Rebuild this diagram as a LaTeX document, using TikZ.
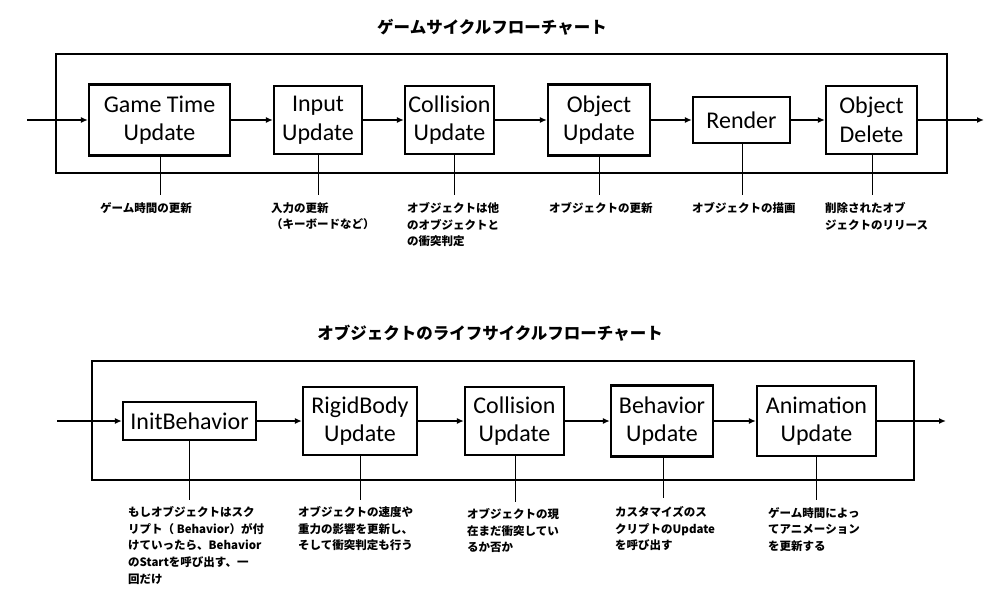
\documentclass[tikz,border=0pt]{standalone}
\usepackage{fontspec}
\setmainfont{Carlito}
\newfontfamily\jp{Noto Sans CJK JP}
\usetikzlibrary{arrows.meta}
\tikzset{
  stepbox/.style={draw, line width=2.2pt, inner sep=0pt, align=center,
    font=\fontsize{24}{28.5}\selectfont},
  flow/.style={line width=1.4pt, -{Latex[length=7pt,width=6pt]}},
  frame/.style={line width=2.4pt},
  leader/.style={line width=0.9pt},
  note/.style={anchor=north west, inner sep=0pt, align=left,
    font=\jp\bfseries\fontsize{11.5}{16.8}\selectfont},
  title/.style={font=\jp\bfseries\fontsize{16.5}{18}\selectfont, inner sep=0pt}
}
\begin{document}
\begin{tikzpicture}[x=1pt,y=-1pt]
\useasboundingbox (0,0) rectangle (1000,600);
% ---------- top ----------
\node[title] (t1) at (492,27) {ゲームサイクルフローチャート};
\draw[frame] (56,54) rectangle (947,173);
\node[stepbox, minimum width=141pt, minimum height=71pt] (gt) at (159.5,120) {Game Time\\Update};
\node[stepbox, minimum width=88pt, minimum height=68pt] (in) at (318,120) {Input\\Update};
\node[stepbox, minimum width=89pt, minimum height=68pt] (co) at (449.5,120) {Collision\\Update};
\node[stepbox, minimum width=102pt, minimum height=71pt] (ob) at (599,120) {Object\\Update};
\node[stepbox, minimum width=97pt, minimum height=46pt] (re) at (741.5,120) {Render};
\node[stepbox, minimum width=91pt, minimum height=68pt] (de) at (871.5,120) {Object\\Delete};
\coordinate (tin) at (27,120);
\coordinate (tout) at (984,120);
\draw[flow] (tin) -- (gt.west);
\draw[flow] (gt) -- (in);
\draw[flow] (in) -- (co);
\draw[flow] (co) -- (ob);
\draw[flow] (ob) -- (re);
\draw[flow] (re) -- (de);
\draw[flow] (de.east) -- (tout);
\coordinate (lgt) at (160,195);
\coordinate (lin) at (318,195);
\coordinate (lco) at (454,195);
\coordinate (lob) at (599,195);
\coordinate (lre) at (742,195);
\coordinate (lde) at (872,195);
\draw[leader] (gt.south -| lgt) -- (lgt);
\draw[leader] (in.south -| lin) -- (lin);
\draw[leader] (co.south -| lco) -- (lco);
\draw[leader] (ob.south -| lob) -- (lob);
\draw[leader] (re.south -| lre) -- (lre);
\draw[leader] (de.south -| lde) -- (lde);
\node[note] (ngt) at (100,202) {ゲーム時間の更新};
\node[note] (nin) at (271,202) {入力の更新\\（キーボードなど）};
\node[note] (nco) at (407,202) {オブジェクトは他\\のオブジェクトと\\の衝突判定};
\node[note] (nob) at (549,202) {オブジェクトの更新};
\node[note] (nre) at (692,202) {オブジェクトの描画};
\node[note] (nde) at (825,202) {削除されたオブ\\ジェクトのリリース};
% ---------- bottom ----------
\node[title] (t2) at (490,333) {オブジェクトのライフサイクルフローチャート};
\draw[frame] (92,361) rectangle (914,480);
\node[stepbox, minimum width=133pt, minimum height=38pt] (ib) at (189.5,421) {InitBehavior};
\node[stepbox, minimum width=114pt, minimum height=68pt] (rb) at (360,421) {RigidBody\\Update};
\node[stepbox, minimum width=99pt, minimum height=68pt] (cb) at (514.5,421) {Collision\\Update};
\node[stepbox, minimum width=102pt, minimum height=71pt] (bb) at (662,421) {Behavior\\Update};
\node[stepbox, minimum width=119pt, minimum height=70pt] (ab) at (816.5,421) {Animation\\Update};
\coordinate (bin) at (57,421);
\coordinate (bout) at (946,421);
\draw[flow] (bin) -- (ib.west);
\draw[flow] (ib) -- (rb);
\draw[flow] (rb) -- (cb);
\draw[flow] (cb) -- (bb);
\draw[flow] (bb) -- (ab);
\draw[flow] (ab.east) -- (bout);
\coordinate (lib) at (189,500);
\coordinate (lrb) at (360,500);
\coordinate (lcb) at (515,502);
\coordinate (lbb) at (663,498);
\coordinate (lab) at (816,500);
\draw[leader] (ib.south -| lib) -- (lib);
\draw[leader] (rb.south -| lrb) -- (lrb);
\draw[leader] (cb.south -| lcb) -- (lcb);
\draw[leader] (bb.south -| lbb) -- (lbb);
\draw[leader] (ab.south -| lab) -- (lab);
\node[note] (nib) at (128,506) {もしオブジェクトはスク\\リプト（ Behavior）が付\\けていったら、Behavior\\のStartを呼び出す、一\\回だけ};
\node[note] (nrb) at (298,506) {オブジェクトの速度や\\重力の影響を更新し、\\そして衝突判定も行う};
\node[note] (ncb) at (467,508) {オブジェクトの現\\在まだ衝突してい\\るか否か};
\node[note] (nbb) at (615,506) {カスタマイズのス\\クリプトのUpdate\\を呼び出す};
\node[note] (nab) at (768,507) {ゲーム時間によっ\\てアニメーション\\を更新する};
\end{tikzpicture}
\end{document}
